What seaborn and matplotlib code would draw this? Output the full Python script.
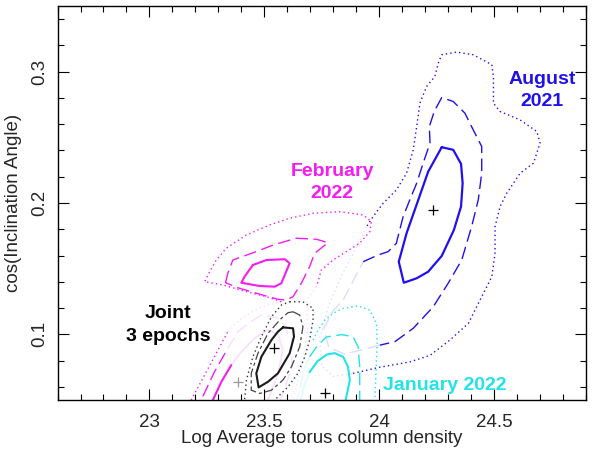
import seaborn as sns
import matplotlib.pyplot as plt
from matplotlib.ticker import MultipleLocator, FixedLocator, FixedFormatter

# colours of the three epochs + joint fit
aug_color = "#2010ee"
feb_color = "#f51cf0"
jan_color = "#22e4e8"
joint_color = "#1a1a1a"

# ---- August 2021 (blue) ----
aug_1s_x = [24.272, 24.322, 24.356, 24.363, 24.356, 24.325, 24.272, 24.213, 24.163, 24.107, 24.085, 24.119, 24.170, 24.213]
aug_1s_y = [0.2425, 0.2405, 0.2298, 0.2151, 0.1973, 0.1795, 0.1597, 0.1477, 0.1427, 0.1393, 0.1553, 0.1770, 0.2024, 0.2239]

aug_2s_x = [23.930, 23.995, 24.039, 24.075, 24.078, 24.104, 24.133, 24.163, 24.191, 24.221, 24.218, 24.240, 24.272, 24.322,
            24.373, 24.409, 24.446, 24.446, 24.431, 24.402, 24.359, 24.300, 24.235, 24.148, 24.068, 24.003]
aug_2s_y = [0.1553, 0.1604, 0.1630, 0.1694, 0.1719, 0.1896, 0.2024, 0.2151, 0.2303, 0.2456, 0.2582, 0.2700, 0.2803, 0.2773,
            0.2684, 0.2557, 0.2430, 0.2227, 0.2024, 0.1820, 0.1566, 0.1389, 0.1210, 0.1046, 0.0944, 0.0918]
aug_2s_fade_x = [24.003, 23.92, 23.85, 23.78, 23.76, 23.80, 23.843, 23.930]
aug_2s_fade_y = [0.0918, 0.088, 0.085, 0.090, 0.105, 0.118, 0.1261, 0.1553]

aug_3s_x = [23.886, 24.003, 24.133, 24.221, 24.279, 24.308, 24.388, 24.446, 24.490, 24.504, 24.504, 24.526, 24.555, 24.613,
            24.671, 24.700, 24.686, 24.613, 24.526, 24.497, 24.497, 24.490, 24.409, 24.337, 24.272, 24.257, 24.242, 24.206,
            24.177, 24.163, 24.148, 24.119, 24.075, 24.017, 23.973, 23.945]
aug_3s_y = [0.0703, 0.0750, 0.0790, 0.0840, 0.0918, 0.0957, 0.1084, 0.1287, 0.1439, 0.1617, 0.1820, 0.1973, 0.2075, 0.2227,
            0.2303, 0.2456, 0.2544, 0.2633, 0.2697, 0.2760, 0.2963, 0.3053, 0.3129, 0.3149, 0.3129, 0.3066, 0.2963, 0.2887,
            0.2761, 0.2582, 0.2405, 0.2227, 0.2100, 0.1998, 0.1896, 0.1820]
aug_3s_fade_x = [23.945, 23.90, 23.84, 23.78, 23.74, 23.75, 23.80, 23.886]
aug_3s_fade_y = [0.182, 0.166, 0.146, 0.122, 0.096, 0.076, 0.068, 0.0703]

# ---- February 2022 (magenta) ----
feb_1s_x = [23.450, 23.509, 23.589, 23.610, 23.589, 23.574, 23.545, 23.480, 23.400, 23.414]
feb_1s_y = [0.1528, 0.1566, 0.1572, 0.1541, 0.1452, 0.1389, 0.1363, 0.1368, 0.1393, 0.1439]
feb_1s_low_x = [23.262, 23.276, 23.313, 23.356]
feb_1s_low_y = [0.040, 0.050, 0.0639, 0.0766]
feb_1s_fade_x = [23.356, 23.400, 23.458, 23.514, 23.56, 23.58, 23.56, 23.52, 23.49]
feb_1s_fade_y = [0.0766, 0.0867, 0.0972, 0.1033, 0.100, 0.088, 0.070, 0.052, 0.040]

feb_2s_x = [23.331, 23.341, 23.363, 23.465, 23.538, 23.639, 23.727, 23.777, 23.719, 23.697, 23.661, 23.625, 23.596, 23.559,
            23.465, 23.392]
feb_2s_y = [0.1393, 0.1465, 0.1566, 0.1630, 0.1680, 0.1732, 0.1724, 0.1698, 0.1617, 0.1515, 0.1389, 0.1287, 0.1261, 0.1267,
            0.1313, 0.1351]
feb_2s_low_x = [23.205, 23.225, 23.283, 23.341]
feb_2s_low_y = [0.040, 0.050, 0.0715, 0.0893]
feb_2s_fade_x = [23.341, 23.385, 23.436, 23.49, 23.57, 23.62, 23.62, 23.58, 23.55]
feb_2s_fade_y = [0.0893, 0.102, 0.109, 0.115, 0.112, 0.095, 0.075, 0.055, 0.040]

feb_3s_x = [23.574, 23.509, 23.422, 23.320, 23.240, 23.262, 23.291, 23.334, 23.422, 23.523, 23.610, 23.712, 23.828, 23.930,
            23.966, 23.959, 23.915, 23.857, 23.799, 23.748, 23.727]
feb_3s_y = [0.1248, 0.1287, 0.1325, 0.1376, 0.1401, 0.1477, 0.1566, 0.1655, 0.1757, 0.1833, 0.1884, 0.1922, 0.1934, 0.1909,
            0.1858, 0.1782, 0.1694, 0.1630, 0.1566, 0.1490, 0.1363]
feb_3s_fade_x = [23.727, 23.683, 23.690, 23.670, 23.640, 23.610]
feb_3s_fade_y = [0.1363, 0.126, 0.105, 0.080, 0.060, 0.040]
feb_3s_low_x = [23.170, 23.182, 23.240, 23.298, 23.341]
feb_3s_low_y = [0.040, 0.050, 0.069, 0.088, 0.102]
feb_3s_low_fade_x = [23.341, 23.392, 23.443, 23.490, 23.574]
feb_3s_low_fade_y = [0.102, 0.111, 0.117, 0.121, 0.1248]

# ---- joint fit, 3 epochs (black) ----
joint_1s_x = [23.581, 23.625, 23.629, 23.610, 23.559, 23.516, 23.475, 23.465, 23.487, 23.531, 23.559]
joint_1s_y = [0.1053, 0.1046, 0.0982, 0.0855, 0.0703, 0.0639, 0.0596, 0.0703, 0.0829, 0.0957, 0.1020]
joint_2s_x = [23.625, 23.654, 23.668, 23.654, 23.618, 23.581, 23.531, 23.480, 23.443, 23.443, 23.472, 23.516, 23.574, 23.603]
joint_2s_y = [0.1172, 0.1147, 0.1058, 0.0905, 0.0753, 0.0652, 0.0575, 0.0550, 0.0575, 0.0703, 0.0855, 0.1008, 0.1122, 0.1165]
joint_3s_x = [23.610, 23.668, 23.712, 23.712, 23.697, 23.676, 23.646, 23.603, 23.559, 23.523, 23.427, 23.414, 23.422, 23.450,
              23.487, 23.531, 23.574]
joint_3s_y = [0.1248, 0.1248, 0.1198, 0.1109, 0.0957, 0.0829, 0.0703, 0.0600, 0.0524, 0.0460, 0.0460, 0.0500, 0.0652, 0.0829,
              0.0982, 0.1134, 0.1223]

# ---- January 2022 (cyan) ----
jan_1s_x = [23.697, 23.732, 23.772, 23.806, 23.843, 23.864, 23.872, 23.857, 23.850]
jan_1s_y = [0.0713, 0.0797, 0.0846, 0.0857, 0.0829, 0.0753, 0.0652, 0.0524, 0.0460]
jan_1s_fade_x = [23.654, 23.671, 23.697]
jan_1s_fade_y = [0.046, 0.0591, 0.0713]
jan_2s_x = [23.697, 23.727, 23.770, 23.836, 23.886, 23.908, 23.915, 23.915, 23.915]
jan_2s_y = [0.0829, 0.0905, 0.0980, 0.0998, 0.0982, 0.0905, 0.0753, 0.0524, 0.0460]
jan_2s_fade_x = [23.636, 23.654, 23.676, 23.697]
jan_2s_fade_y = [0.046, 0.0591, 0.0750, 0.0829]
jan_3s_x = [23.712, 23.734, 23.763, 23.799, 23.843, 23.908, 23.959, 23.988, 23.991, 23.988, 23.981, 23.981]
jan_3s_y = [0.0957, 0.1033, 0.1109, 0.1160, 0.1198, 0.1216, 0.1185, 0.1084, 0.0931, 0.0804, 0.0500, 0.0460]
jan_3s_fade_x = [23.610, 23.636, 23.667, 23.712]
jan_3s_fade_y = [0.046, 0.0652, 0.0843, 0.0957]

# best fit positions: Aug, Feb, Jan, joint
best_x = [24.235, 23.385, 23.763, 23.542]
best_y = [0.1947, 0.0639, 0.0555, 0.0893]
best_colors = ["black", "#999999", "black", "black"]

xticks = [23, 23.5, 24, 24.5]
xtick_labels = ["23", "23.5", "24", "24.5"]
yticks = [0.1, 0.2, 0.3]
ytick_labels = ["0.1", "0.2", "0.3"]

SOLID = "-"
DASHED = (0, (9, 4))
DOTTED = (0, (1, 2.2))
DASHDOT = (0, (7, 2.5, 2.5, 2.5))


def draw(ax, xs, ys, color, ls, lw, alpha=1.0, closed=False):
    xs, ys = list(xs), list(ys)
    if closed:
        xs.append(xs[0])
        ys.append(ys[0])
    sns.lineplot(x=xs, y=ys, sort=False, estimator=None, color=color,
                 linestyle=ls, linewidth=lw, alpha=alpha, ax=ax)


sns.set_theme(style="ticks")
plt.rcParams['font.family'] = ['Liberation Sans', 'DejaVu Sans']

fig = plt.figure(figsize=(5.98, 4.49), dpi=100)
ax = fig.add_axes([0.0962, 0.1091, 0.8838, 0.8775])

fade = 0.15
# faded parts first
draw(ax, aug_2s_fade_x, aug_2s_fade_y, aug_color, DASHED, 1.0, fade)
draw(ax, aug_3s_fade_x, aug_3s_fade_y, aug_color, DOTTED, 1.0, fade)
draw(ax, feb_1s_fade_x, feb_1s_fade_y, feb_color, SOLID, 1.2, fade)
draw(ax, feb_2s_fade_x, feb_2s_fade_y, feb_color, DASHED, 1.0, fade)
draw(ax, feb_3s_fade_x, feb_3s_fade_y, feb_color, DOTTED, 1.0, fade)
draw(ax, feb_3s_low_fade_x, feb_3s_low_fade_y, feb_color, DOTTED, 1.0, fade)
draw(ax, jan_1s_fade_x, jan_1s_fade_y, jan_color, SOLID, 1.2, fade)
draw(ax, jan_2s_fade_x, jan_2s_fade_y, jan_color, DASHED, 1.0, fade)
draw(ax, jan_3s_fade_x, jan_3s_fade_y, jan_color, DOTTED, 1.0, fade)

# August
draw(ax, aug_1s_x, aug_1s_y, aug_color, SOLID, 1.6, closed=True)
draw(ax, aug_2s_x, aug_2s_y, aug_color, DASHED, 1.0)
draw(ax, aug_3s_x, aug_3s_y, aug_color, DOTTED, 1.0)
# February
draw(ax, feb_1s_x, feb_1s_y, feb_color, SOLID, 1.5, closed=True)
draw(ax, feb_1s_low_x, feb_1s_low_y, feb_color, SOLID, 1.5)
draw(ax, feb_2s_x, feb_2s_y, feb_color, DASHED, 1.0, closed=True)
draw(ax, feb_2s_low_x, feb_2s_low_y, feb_color, DASHED, 1.0)
draw(ax, feb_3s_x, feb_3s_y, feb_color, DOTTED, 1.0)
draw(ax, feb_3s_low_x, feb_3s_low_y, feb_color, DOTTED, 1.0)
# January
draw(ax, jan_1s_x, jan_1s_y, jan_color, SOLID, 1.5)
draw(ax, jan_2s_x, jan_2s_y, jan_color, DASHED, 1.0)
draw(ax, jan_3s_x, jan_3s_y, jan_color, DOTTED, 1.0)
# joint
draw(ax, joint_1s_x, joint_1s_y, joint_color, SOLID, 1.5, closed=True)
draw(ax, joint_2s_x, joint_2s_y, "#444444", DASHDOT, 0.9, closed=True)
draw(ax, joint_3s_x, joint_3s_y, "#333333", DOTTED, 1.0, closed=True)

for bx, by, bc in zip(best_x, best_y, best_colors):
    sns.scatterplot(x=[bx], y=[by], marker="+", s=50, color=bc, linewidth=0.9, ax=ax)

# labels
ax.text(24.709, 0.2858, "August\n2021", color=aug_color, fontsize=14, fontweight="bold",
        ha="center", va="center", linespacing=1.42)
ax.text(23.796, 0.2157, "February\n2022", color=feb_color, fontsize=14, fontweight="bold",
        ha="center", va="center", linespacing=1.35)
ax.text(23.080, 0.1073, "Joint\n3 epochs", color="black", fontsize=14, fontweight="bold",
        ha="center", va="center", linespacing=1.45)
ax.text(24.285, 0.0614, "January 2022", color=jan_color, fontsize=14, fontweight="bold",
        ha="center", va="center")

ax.set_xlim(22.6, 24.9)
ax.set_ylim(0.05, 0.35)
ax.xaxis.set_major_locator(FixedLocator(xticks))
ax.xaxis.set_major_formatter(FixedFormatter(xtick_labels))
ax.yaxis.set_major_locator(FixedLocator(yticks))
ax.yaxis.set_major_formatter(FixedFormatter(ytick_labels))
ax.xaxis.set_minor_locator(MultipleLocator(0.1))
ax.yaxis.set_minor_locator(MultipleLocator(0.02))
ax.tick_params(which="both", direction="in", top=True, right=True, color="black", width=0.8)
ax.tick_params(which="major", length=8, labelsize=13.5)
ax.tick_params(axis="x", which="major", pad=10)
ax.tick_params(axis="y", which="major", pad=7)
ax.tick_params(which="minor", length=4.5)
ax.tick_params(axis="y", labelrotation=90)
for lab in ax.get_yticklabels():
    lab.set_va("center")
for sp in ax.spines.values():
    sp.set_color("black")
    sp.set_linewidth(1.0)

ax.set_xlabel("Log Average torus column density", fontsize=13.5, labelpad=-1)
ax.set_ylabel("cos(Inclination Angle)", fontsize=13.5, labelpad=6)

fig.savefig("out.png", dpi=100)
